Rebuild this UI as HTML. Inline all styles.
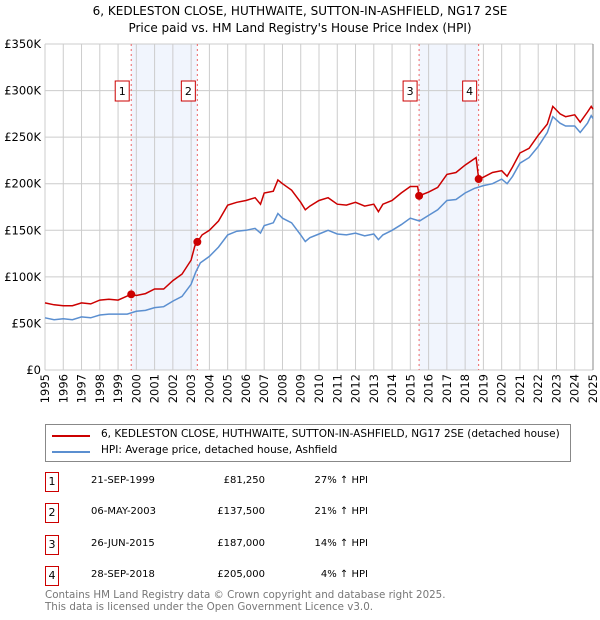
<!DOCTYPE html>
<html><head><meta charset="utf-8"><style>
body{margin:0;background:#fff;font-family:"DejaVu Sans","Liberation Sans",sans-serif;}
#wrap{position:relative;width:600px;height:620px;overflow:hidden;}
.t{position:absolute;font-size:12px;color:#000;white-space:nowrap;}
.box{position:absolute;width:14px;height:20px;border:1px solid #c00;box-sizing:border-box;font-size:11px;text-align:center;line-height:18px;}
</style></head><body><div id="wrap">
<div class="t" style="left:0;width:600px;text-align:center;top:3px;font-size:12px;line-height:17px;">6, KEDLESTON CLOSE, HUTHWAITE, SUTTON-IN-ASHFIELD, NG17 2SE<br>Price paid vs. HM Land Registry's House Price Index (HPI)</div>
<svg id="chart" width="600" height="410" style="position:absolute;left:0;top:0"></svg>
<div style="position:absolute;left:45px;top:424px;width:526px;height:38px;border:1px solid #888;box-sizing:border-box;">
<div><div style="position:absolute;left:6px;top:10px;width:38px;height:2px;background:#c00"></div><div class="t" style="left:55px;top:3px;font-size:10.5px">6, KEDLESTON CLOSE, HUTHWAITE, SUTTON-IN-ASHFIELD, NG17 2SE (detached house)</div></div>
<div><div style="position:absolute;left:6px;top:26px;width:38px;height:2px;background:#5b8fd0"></div><div class="t" style="left:55px;top:19px;font-size:10.5px">HPI: Average price, detached house, Ashfield</div></div>
</div>
<div id="tbl"></div>
<div class="t" style="left:45px;top:590px;color:#777;font-size:10.3px;line-height:11.5px">Contains HM Land Registry data © Crown copyright and database right 2025.<br>This data is licensed under the Open Government Licence v3.0.</div>
</div>
<script>
const hpiT=[1995,1995.5,1996,1996.5,1997,1997.5,1998,1998.5,1999,1999.5,2000,2000.5,2001,2001.5,2002,2002.5,2003,2003.25,2003.5,2004,2004.5,2005,2005.5,2006,2006.5,2006.8,2007,2007.5,2007.75,2008,2008.5,2009,2009.25,2009.5,2010,2010.5,2011,2011.5,2012,2012.5,2013,2013.25,2013.5,2014,2014.5,2015,2015.5,2016,2016.5,2017,2017.5,2018,2018.5,2019,2019.5,2020,2020.3,2020.6,2021,2021.5,2022,2022.5,2022.8,2023.2,2023.5,2024,2024.3,2024.7,2024.9,2025];
const hpiV=[56,54,55,54,57,56,59,60,60,60,63,64,67,68,74,79,92,105,115,122,132,145,149,150,152,147,155,158,168,163,158,145,138,142,146,150,146,145,147,144,146,140,145,150,156,163,160,166,172,182,183,190,195,198,200,205,200,208,222,228,240,255,272,265,262,262,255,265,273,270];
const redT=[1995,1995.5,1996,1996.5,1997,1997.5,1998,1998.5,1999,1999.72,2000,2000.5,2001,2001.5,2002,2002.5,2003,2003.2,2003.35,2003.6,2004,2004.5,2005,2005.5,2006,2006.5,2006.8,2007,2007.5,2007.75,2008,2008.5,2009,2009.25,2009.5,2010,2010.5,2011,2011.5,2012,2012.5,2013,2013.25,2013.5,2014,2014.5,2015,2015.4,2015.48,2016,2016.5,2017,2017.5,2018,2018.6,2018.74,2019,2019.5,2020,2020.3,2020.6,2021,2021.5,2022,2022.5,2022.8,2023.2,2023.5,2024,2024.3,2024.7,2024.9,2025];
const redV=[72,70,69,69,72,71,75,76,75,81.25,80,82,87,87,96,103,118,133,137.5,145,150,160,177,180,182,185,178,190,192,204,200,193,180,172,176,182,185,178,177,180,176,178,170,178,182,190,197,197,187,191,196,210,212,220,228,205,207,212,214,208,218,233,238,252,264,283,275,272,274,266,277,283,280];
const saleN=["1","2","3","4"];
const saleT=[1999.72,2003.34,2015.48,2018.74];
const saleV=[81.25,137.5,187,205];
const saleDate=["21-SEP-1999","06-MAY-2003","26-JUN-2015","28-SEP-2018"];
const salePrice=["£81,250","£137,500","£187,000","£205,000"];
const salePct=["27% ↑ HPI","21% ↑ HPI","14% ↑ HPI","4% ↑ HPI"];
const yTicks=[0,50,100,150,200,250,300,350];
const yLabels=["£0","£50K","£100K","£150K","£200K","£250K","£300K","£350K"];
const years=[1995,1996,1997,1998,1999,2000,2001,2002,2003,2004,2005,2006,2007,2008,2009,2010,2011,2012,2013,2014,2015,2016,2017,2018,2019,2020,2021,2022,2023,2024,2025];
const X0=45,X1=593,Y0=370,Y1=44;
const x=t=>X0+(t-1995)/30*(X1-X0);
const y=v=>Y0-v/350*(Y0-Y1);
const NS="http://www.w3.org/2000/svg";
const FF='DejaVu Sans, Liberation Sans, sans-serif';
const svg=document.getElementById('chart');
function mk(tag,at,parent){const e=document.createElementNS(NS,tag);for(const k in at)e.setAttribute(k,at[k]);(parent||svg).appendChild(e);return e;}
for(let i=0;i<4;i+=2){const r=mk('rect',{x:x(saleT[i]),y:Y1,width:x(saleT[i+1])-x(saleT[i]),height:Y0-Y1,fill:'#eef3fc',opacity:0.8});

}
years.forEach(yr=>{const l=mk('line',{x1:x(yr),x2:x(yr),y1:Y1,y2:Y0,stroke:'#ccc','stroke-width':1});


const tx=mk('text',{x:0,y:0,transform:`translate(${x(yr)+4},${Y0+4}) rotate(-90)`,'text-anchor':'end','font-size':'11.5','font-family':FF});
tx.textContent=yr;

});
yTicks.forEach((v,i)=>{const l=mk('line',{x1:X0,x2:X1,y1:y(v),y2:y(v),stroke:'#ccc','stroke-width':1});


const tx=mk('text',{x:X0-4,y:y(v)+4,'text-anchor':'end','font-size':'11.5','font-family':FF});
tx.textContent=yLabels[i];

});
const rb=mk('line',{x1:X1,x2:X1,y1:Y1,y2:Y0,stroke:'#888'});


saleT.forEach((t,i)=>{const l=mk('line',{x1:x(t),x2:x(t),y1:Y1,y2:Y0,stroke:'#e66','stroke-width':1,'stroke-dasharray':'2,3'});

});
function path(T,V,c,name){const p=mk('path',{d:T.map((t,i)=>(i?'L':'M')+x(t).toFixed(1)+','+y(V[i]).toFixed(1)).join(''),fill:'none',stroke:c,'stroke-width':1.5});

}
path(hpiT,hpiV,'#5b8fd0','hpi-line');
path(redT,redV,'#c00','property-price-line');
saleT.forEach((t,i)=>{const c=mk('circle',{cx:x(t),cy:y(saleV[i]),r:4,fill:'#c00'});


const g=mk('rect',{x:x(t)-16,y:81,width:14,height:20,fill:'#fff',stroke:'#c00'});


const tx=mk('text',{x:x(t)-9,y:95,'text-anchor':'middle','font-size':'11','font-family':FF});
tx.textContent=saleN[i];

});
const tbl=document.getElementById('tbl');
const rowsY=[482,513,545,576];
saleN.forEach((n,i)=>{const r=document.createElement('div');


const cy=rowsY[i];
r.innerHTML=`<div class="box" style="left:45px;top:${cy-10}px">${n}</div><div class="t" style="left:91px;top:${cy-7}px;font-size:10px">${saleDate[i]}</div><div class="t" style="left:165px;width:100px;text-align:right;top:${cy-7}px;font-size:10px">${salePrice[i]}</div><div class="t" style="left:268px;width:100px;text-align:right;top:${cy-7}px;font-size:10px">${salePct[i]}</div>`;
tbl.appendChild(r);});
</script></body></html>
